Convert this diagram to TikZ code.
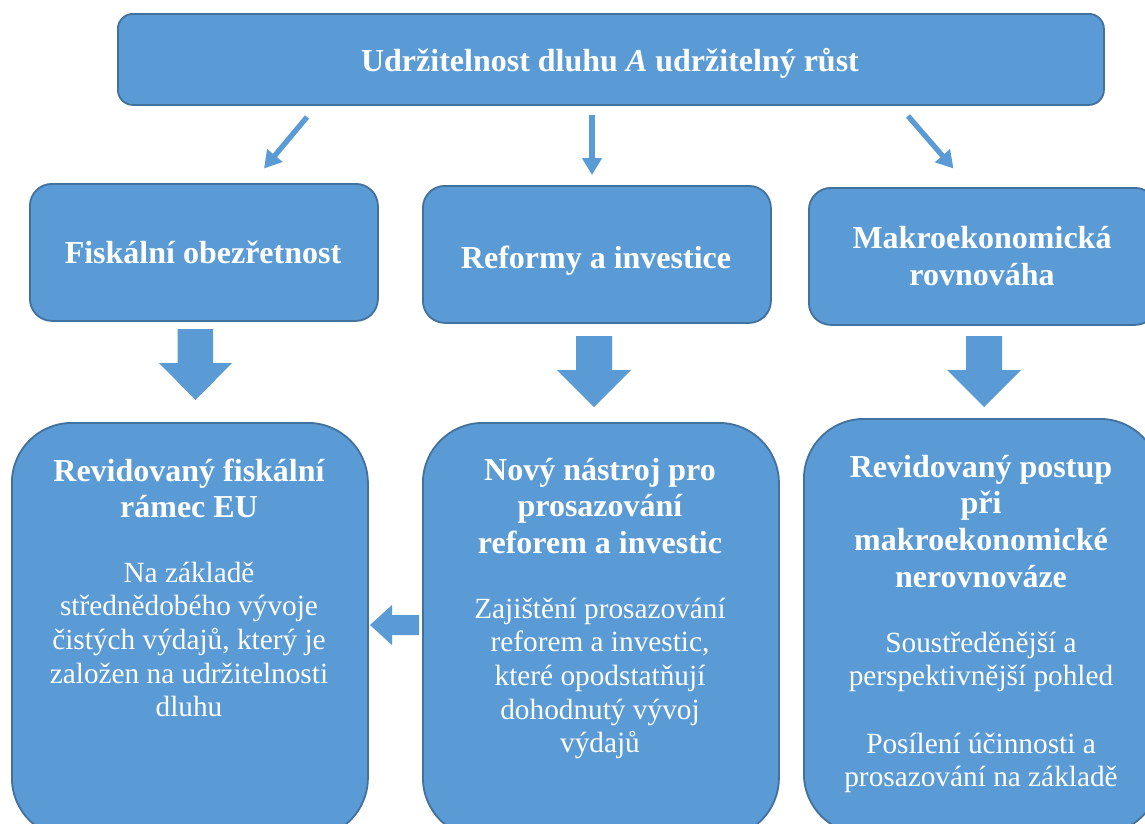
\documentclass[tikz,border=0pt]{standalone}
\usepackage{fontspec}
\setmainfont{Liberation Serif}
\usetikzlibrary{arrows.meta}
\definecolor{boxfill}{HTML}{5B9BD5}
\definecolor{boxline}{HTML}{41719C}
\begin{document}
\begin{tikzpicture}[x=1pt,y=-1pt,
  box/.style={draw=boxline, line width=1.8pt, fill=boxfill, anchor=north west, inner sep=0pt},
  hd/.style={text=white, font=\fontsize{32}{36.8}\selectfont\bfseries, inner sep=0pt, anchor=base},
  bd/.style={text=white, font=\fontsize{29.3}{33.7}\selectfont, inner sep=0pt, anchor=base},
  thinarrow/.style={draw=boxfill, line width=5.3pt, -{Triangle[length=17pt,width=19pt]}},
  blockarrow/.style={fill=boxfill}]
\path[use as bounding box] (0,0) rectangle (1145,823);
\clip (0,0) rectangle (1145,823);
\fill[white] (0,0) rectangle (1145,823);

% top box
\node[box, rounded corners=15pt, minimum width=986pt, minimum height=91pt] (top) at (117,13) {};
\node[hd] (toptxt) at (610,71.7) {Udržitelnost dluhu \textit{A} udržitelný růst};

% middle row
\node[box, rounded corners=22pt, minimum width=348pt, minimum height=137pt] (m1) at (29,183) {};
\node[box, rounded corners=22pt, minimum width=348pt, minimum height=137pt] (m2) at (422,185) {};
\node[box, rounded corners=22pt, minimum width=348pt, minimum height=137pt] (m3) at (808,187) {};
\node[hd] (m1t) at (203,263) {Fiskální obezřetnost};
\node[hd] (m2t) at (596,268) {Reformy a investice};
\node[hd] (m3t1) at (982,248.3) {Makroekonomická};
\node[hd] (m3t2) at (982,285) {rovnováha};

% bottom row
\node[box, rounded corners=60pt, minimum width=356pt, minimum height=415pt] (b1) at (11,422) {};
\node[box, rounded corners=60pt, minimum width=356pt, minimum height=415pt] (b2) at (422,422) {};
\node[box, rounded corners=60pt, minimum width=356pt, minimum height=415pt] (b3) at (803,418) {};

\node[hd] (b1h1) at (189,481) {Revidovaný fiskální};
\node[hd] (b1h2) at (189,517.8) {rámec EU};
\node[bd] (b1b1) at (189,582) {Na základě};
\node[bd] (b1b2) at (189,615.7) {střednědobého vývoje};
\node[bd] (b1b3) at (189,649.4) {čistých výdajů, který je};
\node[bd] (b1b4) at (189,683.1) {založen na udržitelnosti};
\node[bd] (b1b5) at (189,716.8) {dluhu};

\node[hd] (b2h1) at (600,480) {Nový nástroj pro};
\node[hd] (b2h2) at (600,516.8) {prosazování};
\node[hd] (b2h3) at (600,553.6) {reforem a investic};
\node[bd] (b2b1) at (600,618) {Zajištění prosazování};
\node[bd] (b2b2) at (600,651.7) {reforem a investic,};
\node[bd] (b2b3) at (600,685.4) {které opodstatňují};
\node[bd] (b2b4) at (600,719.1) {dohodnutý vývoj};
\node[bd] (b2b5) at (600,752.8) {výdajů};

\node[hd] (b3h1) at (981,477) {Revidovaný postup};
\node[hd] (b3h2) at (981,513.8) {při};
\node[hd] (b3h3) at (981,550.6) {makroekonomické};
\node[hd] (b3h4) at (981,587.4) {nerovnováze};
\node[bd] (b3b1) at (981,652) {Soustředěnější a};
\node[bd] (b3b2) at (981,685.7) {perspektivnější pohled};
\node[bd] (b3c1) at (981,753) {Posílení účinnosti a};
\node[bd] (b3c2) at (981,786.7) {prosazování na základě};

% thin arrows
\coordinate (a1s) at (307,117); \coordinate (a1e) at (264,168.5);
\coordinate (a2s) at (592,115); \coordinate (a2e) at (592,175);
\coordinate (a3s) at (908,116); \coordinate (a3e) at (953.5,168.5);
\draw[thinarrow] (a1s) -- (a1e);
\draw[thinarrow] (a2s) -- (a2e);
\draw[thinarrow] (a3s) -- (a3e);

% block arrows
\fill[blockarrow] (177.5,329) -- (213,329) -- (213,363) -- (232,363) -- (195.5,400) -- (159,363) -- (177.5,363) -- cycle;
\fill[blockarrow] (576,336) -- (612,336) -- (612,370) -- (631,370) -- (594,407) -- (557,370) -- (576,370) -- cycle;
\fill[blockarrow] (966,336) -- (1002,336) -- (1002,370) -- (1021,370) -- (984,407) -- (947,370) -- (966,370) -- cycle;
\fill[blockarrow] (419,615) -- (419,635) -- (392,635) -- (392,645) -- (370,625) -- (392,605) -- (392,615) -- cycle;
\end{tikzpicture}
\end{document}
